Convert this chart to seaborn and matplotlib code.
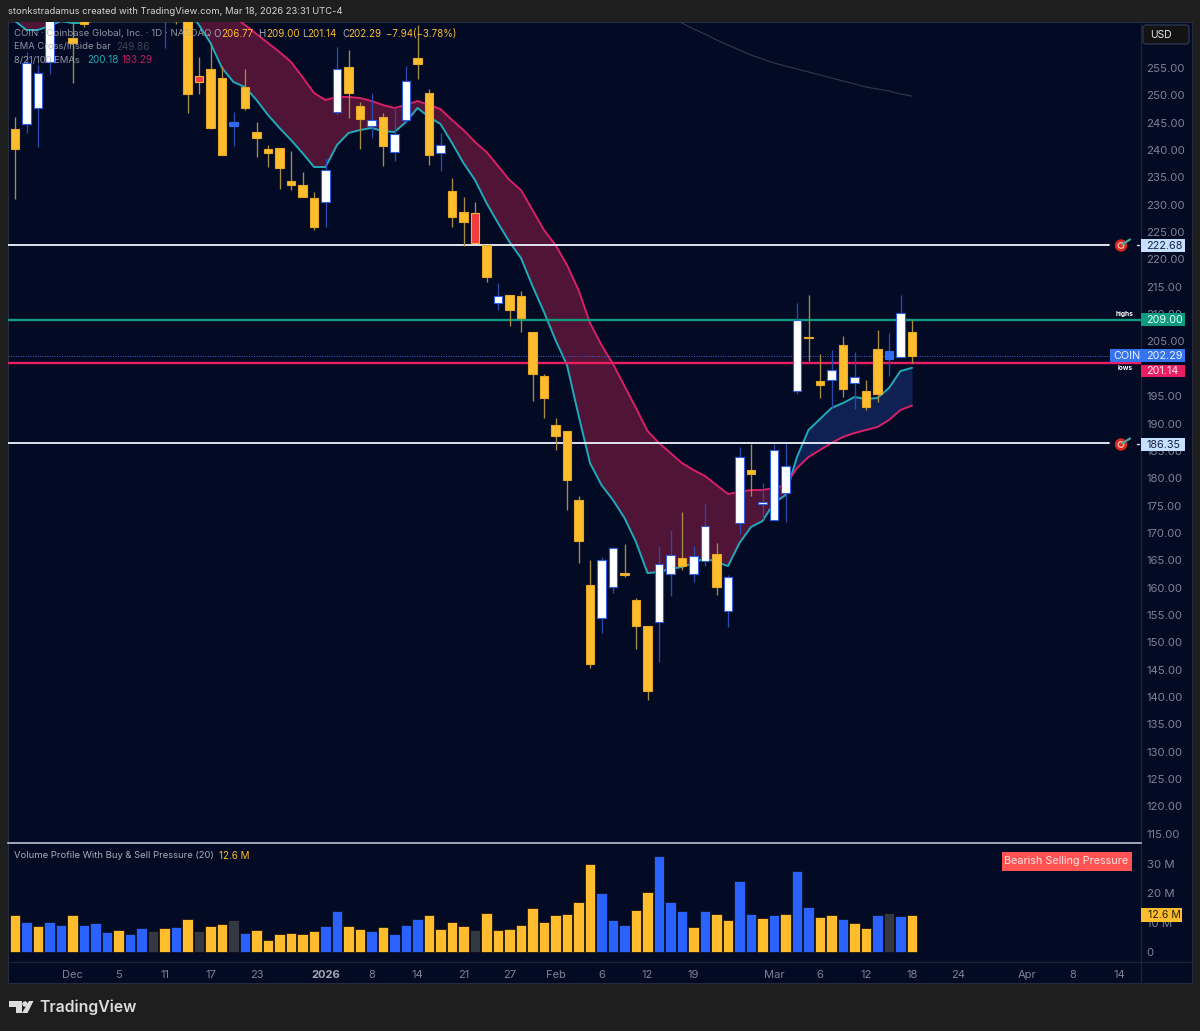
import numpy as np
import pandas as pd
import matplotlib
matplotlib.use("Agg")
import matplotlib.pyplot as plt
from matplotlib.patches import Rectangle, Circle, Polygon, FancyBboxPatch
from matplotlib.transforms import blended_transform_factory
import seaborn as sns

# ---------------- data ----------------
opens = [243.9,244.8,247.7,256.1,268.0,260.5,266.0,268.0,275.0,272.0,270.0,276.0,283.0,268.0,270.0,268.0,253.5,254.82,253.17,244.39,
         251.52,243.30,240.19,240.37,234.34,233.61,231.23,230.50,246.95,255.18,248.05,244.39,246.04,239.64,245.49,256.83,250.43,239.46,232.51,228.67,
         228.49,222.64,212.04,213.50,213.32,206.73,198.69,189.73,188.64,176.02,160.48,154.45,160.11,162.67,157.74,153.00,153.72,162.49,165.41,162.49,
         164.87,166.15,155.73,171.82,181.50,175.34,172.36,177.30,195.95,205.82,197.78,197.96,204.36,197.41,195.95,203.63,201.80,202.16,206.77]
highs = [246.0,257.9,255.5,273.0,275.0,266.0,268.0,276.0,280.0,277.0,278.0,285.0,288.0,276.0,273.0,271.0,257.01,259.57,255.36,246.95,
         254.82,245.13,240.92,240.37,239.82,235.99,232.33,238.54,258.84,258.29,248.78,250.43,246.77,247.87,255.36,262.86,251.16,243.11,234.89,231.41,
         230.50,222.64,215.69,213.50,214.23,206.73,199.06,191.01,188.64,176.75,165.05,165.60,167.43,167.98,158.10,153.00,167.61,170.54,173.83,167.61,
         175.47,168.16,162.31,185.71,186.26,179.13,186.26,186.26,212.04,213.50,202.71,203.44,206.00,203.08,197.96,207.10,206.55,213.50,209.00]
lows = [231.1,243.1,240.6,253.9,264.5,252.3,262.5,265.0,270.0,268.0,268.0,274.0,279.0,258.7,263.0,246.8,250.24,243.85,239.09,240.74,
        247.32,238.73,236.90,232.88,232.69,231.41,225.38,225.93,246.40,245.86,240.19,242.20,237.08,237.99,244.94,252.99,237.26,236.17,225.93,222.46,
        223.00,215.87,210.76,207.83,206.73,194.12,191.01,185.16,174.19,164.50,145.31,151.70,159.02,161.94,148.78,139.46,146.40,158.47,163.22,161.03,
        163.95,158.65,152.80,169.80,176.75,172.55,172.36,171.99,195.40,201.43,194.67,192.84,194.85,192.66,192.47,193.94,198.69,202.16,201.14]
closes = [240.2,255.9,254.1,270.0,272.0,259.6,263.0,274.0,272.0,270.0,276.0,283.0,281.0,273.0,267.0,250.2,252.44,244.03,239.09,245.13,
          247.69,242.20,239.46,236.72,233.61,231.41,225.93,236.35,254.82,250.43,245.67,245.49,240.74,242.93,252.62,255.73,239.09,240.92,227.76,226.84,
          223.00,216.79,213.32,210.76,209.29,199.06,194.67,187.72,179.68,168.52,146.04,165.05,167.24,162.31,153.00,141.10,164.32,165.96,163.95,165.78,
          171.27,160.11,161.94,183.88,180.77,175.71,185.16,182.24,208.93,205.64,197.05,199.79,196.31,198.51,193.02,195.40,203.26,210.21,202.29]
candle_kind = list("YWWWWYYWYYWWYWYYRYYB"
                   "YYYYYYYWWYYWYWWYYWYY"
                   "RYWYYYYYYYYWWYYYWWYW"
                   "WYWWYWWWWYYWYWYYBWY")
volumes = [12.7,10.35,9.0,10.35,9.2,12.5,9.2,9.8,6.7,7.4,6.3,8.2,7.1,8.2,8.4,11.1,7.1,8.8,9.6,10.9,
           6.5,7.4,4.1,6.3,6.6,6.0,7.1,9.0,14.1,9.0,7.8,7.1,8.4,6.3,9.2,11.1,12.5,7.8,10.1,8.8,
           7.4,13.3,7.4,7.8,9.2,14.9,10.1,12.5,13.1,17.1,30.0,20.0,10.9,9.2,14.4,20.4,32.8,17.1,14.1,8.4,
           14.1,13.1,10.9,24.1,13.1,11.7,12.7,13.1,27.6,15.5,11.9,12.5,11.1,9.8,8.2,12.5,13.3,12.3,12.6]
volume_kind = list("YBYBBYBBBYBBGYBYGYYG"
                   "BYYYYYYBBYYBYBBBYYYY"
                   "GYYYYYYYYYYBBBYYBBBY"
                   "BYYBBYBYBBYYBYYBGBY")
ema8 = [263.6,261.95,261.95,262.68,263.59,263.22,263.22,263.77,266.0,268.0,268.0,268.0,269.0,268.0,268.0,265.8,262.86,259.57,255.0,252.44,
        251.52,249.15,246.40,244.03,241.84,239.46,236.90,236.90,240.92,243.11,243.66,244.03,243.48,243.30,245.13,247.69,246.04,244.76,241.29,237.63,
        234.52,230.32,226.66,223.19,220.26,215.14,210.39,205.27,200.70,191.56,182.78,178.76,176.02,172.73,168.34,162.67,162.86,163.41,163.77,164.50,
        165.41,164.68,163.95,168.16,171.08,172.18,175.47,176.93,183.88,188.82,190.83,192.84,193.75,194.85,194.48,194.67,196.50,199.60,200.18]
ema21 = [272.0,272.0,272.0,272.5,272.5,272.5,273.0,273.0,273.0,273.5,273.5,273.5,273.0,272.5,272.0,271.0,270.0,268.0,266.0,264.4,
         262.86,261.21,259.57,257.92,256.10,253.35,250.43,249.15,249.70,249.70,249.51,248.97,248.23,247.69,248.23,248.97,248.23,247.50,245.49,243.66,
         241.47,239.64,237.08,234.52,232.69,229.04,225.38,222.64,218.98,214.41,208.38,204.36,200.88,196.86,192.84,188.64,186.44,184.61,182.78,181.50,
         180.41,178.76,177.12,177.48,177.85,177.85,178.21,178.76,181.87,183.88,185.16,186.44,187.54,188.27,188.82,189.37,190.65,192.47,193.29]
ema100_tail = [264.3,263.22,262.13,261.21,260.12,259.20,258.29,257.37,256.64,255.91,255.36,254.82,254.27,253.72,253.17,252.62,252.07,251.52,251.16,250.79,250.24,249.86]
date_ticks = [5,9,13,17,21,27,31,35,39,43,47,51,55,59,66,70,74,78,82,88,92,96]
date_labels = ["Dec","5","11","17","23","2026","8","14","21","27","Feb","6","12","19","Mar","6","12","18","24","Apr","8","14"]
price_ticks = list(range(115, 260, 5))
volume_ticks = [0, 10, 20, 30]
volume_tick_labels = ["0", "10 M", "20 M", "30 M"]
level_highs, level_lows, level_last, target_up, target_down = 209.00, 201.14, 202.29, 222.68, 186.35

# ---------------- style ----------------
W, H = 1200, 1031
PAGE, NAVY = "#1e1e1e", "#030b24"
YEL, BLU, GRY, WHT = "#ffbd2e", "#2962ff", "#343843", "#ffffff"
TXT = "#a9adb8"
sns.set_theme(style="dark")
plt.rcParams["font.family"] = ["Inter", "DejaVu Sans"]
fig = plt.figure(figsize=(W / 100, H / 100), dpi=100, facecolor=PAGE)

def px_axes(l, t, r, b, **kw):
    return fig.add_axes([l / W, 1 - b / H, (r - l) / W, (b - t) / H], **kw)

bg = px_axes(0, 0, W, H, zorder=0)
bg.set_xlim(0, W); bg.set_ylim(H, 0); bg.axis("off")
bg.add_patch(Rectangle((8, 22), 1184, 961, fc=NAVY, ec="#262c3c", lw=0.8))
bg.plot([1141, 1141], [22, 983], color="#1b2336", lw=0.9)
bg.plot([8, 1192], [962, 962], color="#1b2336", lw=0.9)

ax = px_axes(8, 22, 1141, 843, zorder=2)
axv = px_axes(8, 844, 1141, 962, zorder=2)
x0, x1 = (8 - 15) / 11.5, (1141 - 15) / 11.5

bars = np.arange(len(closes))
df = pd.DataFrame({"bar": bars, "o": opens, "h": highs, "l": lows, "c": closes, "kind": candle_kind,
                   "vol": volumes, "vkind": volume_kind, "e8": ema8, "e21": ema21})

# ---------------- price pane ----------------
ax.set_facecolor("none")
ax.fill_between(df.bar, df.e8, df.e21, where=df.e8 <= df.e21, interpolate=True, color="#4f1436", lw=0, zorder=1)
ax.fill_between(df.bar, df.e8, df.e21, where=df.e8 >= df.e21, interpolate=True, color="#0e2152", lw=0, zorder=1)
sns.lineplot(x=df.bar, y=df.e8, ax=ax, color="#22a9ba", lw=1.4, zorder=2, errorbar=None)
sns.lineplot(x=df.bar, y=df.e21, ax=ax, color="#d81f68", lw=1.4, zorder=2, errorbar=None)
sns.lineplot(x=bars[-len(ema100_tail):], y=ema100_tail, ax=ax, color="#333948", lw=0.8, zorder=2, errorbar=None)

ax.axhline(level_highs, color="#0e9b80", lw=1.7, zorder=3)
ax.axhline(level_lows, color="#e91e63", lw=1.7, zorder=3)
ax.axhline(level_last, color="#3f63d8", lw=0.7, ls=(0, (1, 1.5)), zorder=3)
white_end = (1109 - 8) / (1141 - 8)
ax.axhline(target_up, xmax=white_end, color="#eef4ff", lw=1.3, zorder=3)
ax.axhline(target_down, xmax=white_end, color="#eef4ff", lw=1.3, zorder=3)

body_face = {"Y": YEL, "W": WHT, "B": "#2f6bf0", "R": "#f23b3b"}
body_edge = {"Y": "#e6a827", "W": "#2f5fe0", "B": "#2f6bf0", "R": "#f5b335"}
wick_col = {"Y": "#a88c45", "W": "#2a49ad", "B": "#2a49ad", "R": "#a88c45"}
ax.vlines(df.bar, df.l, df.h, colors=[wick_col[k] for k in df.kind], lw=0.95, zorder=5)
ax.bar(df.bar, (df.c - df.o).abs(), bottom=df[["o", "c"]].min(axis=1), width=0.71,
       color=[body_face[k] for k in df.kind], edgecolor=[body_edge[k] for k in df.kind], lw=0.8, zorder=6)

ax.set_xlim(x0, x1)
ax.set_ylim(267.43 - 0.18282 * 843, 267.43 - 0.18282 * 22)
ax.set_xticks([])
ax.yaxis.tick_right()
ax.set_yticks(price_ticks)
ax.set_yticklabels([f"{p:.2f}" for p in price_ticks], fontsize=8.2, color="#7d8394")
ax.tick_params(axis="y", length=0, pad=4)
ax.grid(False); ax.set_xlabel(""); ax.set_ylabel("")
for s in ax.spines.values():
    s.set_visible(False)
ax.spines["bottom"].set_visible(True)
ax.spines["bottom"].set_color("#c9cfdc"); ax.spines["bottom"].set_linewidth(1.1)

tf = blended_transform_factory(ax.transAxes, ax.transData)
def tag(price, text, face, tcol, x=1.0, w=44 / 1133, pad=5 / 1133, h=2.3, ha="left", shift=0.0):
    yc = price + shift
    ax.add_patch(Rectangle((x, yc - h / 2), w, h, transform=tf, fc=face, ec="none", clip_on=False, zorder=12))
    ax.text(x + pad, yc - 0.05, text, transform=tf, color=tcol, fontsize=7.8, va="center", ha=ha, clip_on=False, zorder=13)

tag(level_highs, "209.00", "#0e9b80", "#eafff8")
tag(level_last, "202.29", "#3574f0", "#eaf1ff", shift=0.1)
tag(level_last, "COIN", "#3574f0", "#eaf1ff", x=(1110 - 8) / 1133, w=31 / 1133, pad=3 / 1133, shift=0.1)
tag(level_lows, "201.14", "#e91e63", "#ffeaf1", shift=-1.55)
tag(target_up, "222.68", "#c6e0ff", "#16233f", h=2.4, shift=-0.2)
tag(target_down, "186.35", "#c6e0ff", "#16233f", h=2.4, shift=-0.25)
ax.text((1125 - 8) / 1133, level_highs + 1.05, "highs", transform=tf, color=WHT, fontsize=4.8, fontweight="bold", ha="center", va="center", zorder=13)
ax.text((1125 - 8) / 1133, level_lows - 1.05, "lows", transform=tf, color=WHT, fontsize=4.8, fontweight="bold", ha="center", va="center", zorder=13)

# ---------------- volume pane ----------------
axv.set_facecolor("none")
sns.barplot(x=df.bar, y=df.vol, hue=df.vkind, palette={"Y": YEL, "B": BLU, "G": GRY}, native_scale=True,
            dodge=False, width=0.9, saturation=1, legend=False, ax=axv, edgecolor="#0a0a12", lw=0.5, zorder=3)
axv.set_xlim(x0, x1)
axv.set_ylim(-10 / 29.3 * 10, (952 - 844) / 2.93)
axv.yaxis.tick_right()
axv.set_yticks(volume_ticks)
axv.set_yticklabels(volume_tick_labels, fontsize=8.2, color="#7d8394")
axv.tick_params(axis="y", length=0, pad=4)
axv.set_xticks(date_ticks)
axv.set_xticklabels(date_labels, fontsize=8.0, color="#7d8394")
axv.tick_params(axis="x", length=0, pad=6)
for lab, t_ in zip(axv.get_xticklabels(), date_labels):
    if t_ == "2026":
        lab.set_fontweight("bold"); lab.set_color("#a3a8b6")
axv.grid(False); axv.set_xlabel(""); axv.set_ylabel("")
for s in axv.spines.values():
    s.set_visible(False)

tfv = blended_transform_factory(axv.transAxes, axv.transData)
axv.add_patch(Rectangle((1.0, 12.6 - 2.4), 41 / 1133, 4.8, transform=tfv, fc=YEL, ec="none", clip_on=False, zorder=12))
axv.text(1 + 7 / 1133, 12.55, "12.6 M", transform=tfv, color="#2a2108", fontsize=7.6, va="center", ha="left", clip_on=False, zorder=13)

# ---------------- overlay text and decorations ----------------
ov = px_axes(0, 0, W, H, zorder=10)
ov.set_xlim(0, W); ov.set_ylim(H, 0); ov.axis("off"); ov.patch.set_alpha(0)

def t(x, y, s, c=TXT, fs=7.0, **kw):
    ov.text(x, y, s, color=c, fontsize=fs, va="center", ha=kw.pop("ha", "left"), **kw)

t(8, 12, "stonkstradamus created with TradingView.com, Mar 18, 2026 23:31 UTC-4", c="#d5d5d5", fs=6.8)
t(14.5, 34, "COIN · Coinbase Global, Inc. · 1D · NASDAQ", alpha=0.85, fs=6.9)
for x, s, c in [(213, "O", TXT), (221, "206.77", YEL), (258, "H", TXT), (266, "209.00", YEL), (302, "L", TXT), (307, "201.14", YEL),
                (342, "C", TXT), (348, "202.29", YEL), (386, "−7.94", YEL), (413, "(−3.78%)", YEL)]:
    t(x, 34, s, c=c)
t(14.5, 47, "EMA Cross/Inside bar", alpha=0.85, fs=6.8)
t(116, 47, "249.86", c="#3f4450")
t(14.5, 60, "8/21/100 EMAs", alpha=0.85, fs=6.8)
t(87, 60, "200.18", c="#22a9ba")
t(122, 60, "193.29", c="#c01f5f")
t(14.5, 856, "Volume Profile With Buy & Sell Pressure (20)", fs=6.8)
t(219, 856, "12.6 M", c=YEL)

ov.add_patch(Rectangle((1001.5, 852), 130, 19, fc="#ff5252", ec="none"))
t(1066.5, 861.5, "Bearish Selling Pressure", c="#ffe4e4", fs=7.8, ha="center")

ov.add_patch(FancyBboxPatch((1145, 27), 42, 15, boxstyle="round,pad=2,rounding_size=3", fc="#131313", ec="#2b3550", lw=1))
t(1150, 35, "USD", c="#e8e8e8", fs=7.4)

for yc in (245.5, 444.5):
    ov.add_patch(Circle((1121, yc), 6.2, fc="#d8261f", ec="none"))
    ov.add_patch(Circle((1121, yc), 3.5, fc="#f6b7a8", ec="none"))
    ov.add_patch(Circle((1121, yc), 2.1, fc="#d8261f", ec="none"))
    ov.plot([1122, 1130], [yc - 1, yc - 6], color="#4aa7a0", lw=1.6, solid_capstyle="round")
    ov.plot([1137, 1139], [yc - 1, yc - 1], color="#dfe6f2", lw=1)

logo = "#dcdcdc"
ov.add_patch(Polygon([(9.3, 1001), (21.5, 1001), (21.5, 1013), (15.5, 1013), (15.5, 1007), (9.3, 1007)], fc=logo, ec="none"))
ov.add_patch(Circle((25, 1004), 2.7, fc=logo, ec="none"))
ov.add_patch(Polygon([(29, 1001), (33.5, 1001), (27.5, 1013), (22, 1013)], fc=logo, ec="none"))
t(39, 1007, "TradingView", c=logo, fs=11.4, fontweight="semibold")

fig.savefig("out.png", dpi=100, facecolor=PAGE)
